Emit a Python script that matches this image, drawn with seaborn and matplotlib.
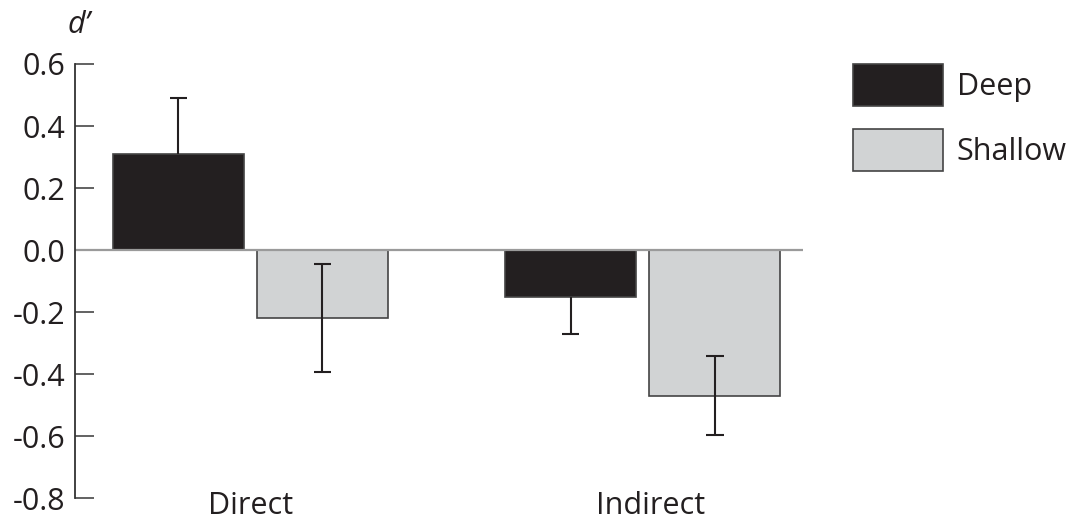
import pandas as pd
import numpy as np
import matplotlib.pyplot as plt
import seaborn as sns

# данные
conditions = ['Direct', 'Indirect']
groups = ['Deep', 'Shallow']
deep_vals = [0.31, -0.15]
shallow_vals = [-0.22, -0.47]
# ошибки (вниз / вверх)
deep_err_low = [0.0, 0.12]
deep_err_high = [0.18, 0.0]
shallow_err_low = [0.175, 0.128]
shallow_err_high = [0.175, 0.128]
y_ticks = [0.6, 0.4, 0.2, 0.0, -0.2, -0.4, -0.6, -0.8]

df = pd.DataFrame({
    'cond': conditions * 2,
    'group': [groups[0]] * 2 + [groups[1]] * 2,
    'val': deep_vals + shallow_vals,
})

sns.set_style('ticks')
plt.rcParams['font.family'] = ['Open Sans', 'DejaVu Sans']

fig = plt.figure(figsize=(10.79, 5.25), dpi=100)
ax = fig.add_axes([0.0695, 0.0514, 0.6747, 0.8267])

colors = {'Deep': '#231f20', 'Shallow': '#d1d3d4'}
sns.barplot(data=df, x='cond', y='val', hue='group', order=conditions, hue_order=groups,
            palette=colors, errorbar=None, width=0.734, gap=0.09,
            edgecolor='#444444', linewidth=1.2, saturation=1, ax=ax)

# линия нуля
ax.axhline(0, color='#9a9a9a', lw=1.6, zorder=1)

# усы ошибок (только ненулевые стороны)
cap = 0.022
errs = [(deep_err_low, deep_err_high), (shallow_err_low, shallow_err_high)]
for cont, (lo, hi) in zip(ax.containers, errs):
    for b, l, h in zip(cont, lo, hi):
        x = b.get_x() + b.get_width() / 2
        y = b.get_y() + b.get_height()
        ax.vlines(x, y - l, y + h, color='#231f20', lw=1.5, zorder=5)
        for e in [y - l if l > 0 else None, y + h if h > 0 else None]:
            if e is not None:
                ax.hlines(e, x - cap, x + cap, color='#231f20', lw=1.5, zorder=5)

ax.set_xlim(-0.447, 1.408)
ax.set_ylim(-0.8, 0.6)
ax.set_xticks([0, 1.02])
ax.set_xticklabels(conditions)
ax.set_yticks(y_ticks)
ax.set_yticklabels(['{:.1f}'.format(t) for t in y_ticks])
ax.set_xlabel('')
ax.set_ylabel('')

for s in ['top', 'right', 'bottom']:
    ax.spines[s].set_visible(False)
ax.spines['left'].set_color('#333333')
ax.spines['left'].set_linewidth(1.3)
ax.tick_params(axis='y', direction='in', length=14, width=1.3, color='#555555',
               labelsize=22, pad=7, labelcolor='#231f20')
ax.tick_params(axis='x', length=0, labelsize=22, pad=-5, labelcolor='#231f20')

# легенда
handles, labels = ax.get_legend_handles_labels()
ax.legend(handles, labels, loc='upper left', bbox_to_anchor=(853 / 1079, 1 - 64 / 525),
          bbox_transform=fig.transFigure, frameon=False, fontsize=22,
          handlelength=2.94, handleheight=1.73, labelspacing=0.75,
          handletextpad=0.45, borderpad=0, borderaxespad=0, labelcolor='#231f20')

fig.text(79 / 1079, 1 - 25 / 525, 'd\u2019', fontsize=22, style='italic',
         ha='center', va='center', color='#231f20')

plt.savefig('out.png', dpi=100)
